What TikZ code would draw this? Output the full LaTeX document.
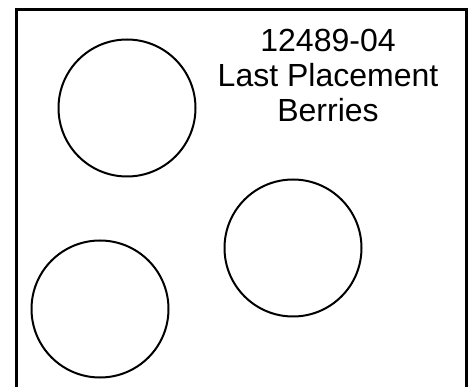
\documentclass[tikz,border=0pt]{standalone}
\usepackage{fontspec}
\setmainfont{Liberation Sans}
\usepackage{tikz}
\usetikzlibrary{positioning}
\tikzset{
    berry/.style={circle, draw, minimum size=137pt, inner sep=0pt, line width=2pt},
    frame/.style={draw, line width=3pt},
    caption/.style={anchor=base, inner sep=0pt, font=\fontsize{32}{36}\selectfont}
}
\begin{document}
\begin{tikzpicture}[x=1pt, y=-1pt]
    \useasboundingbox (0,0) rectangle (474,387);
    % Frame
    \draw[frame] (16,392) -- (16,10) -- (466,10) -- (466,392);

    % Nodes
    \node[berry] (berryA) at (127,108) {};
    \node[berry] (berryB) at (293,248) {};
    \node[berry] (berryC) at (100,309) {};

    % caption
    \node[caption] (code) at (328,52) {12489-04};
    \node[caption] (place) at (328,87) {Last Placement};
    \node[caption] (kind) at (328,122) {Berries};
\end{tikzpicture}
\end{document}
